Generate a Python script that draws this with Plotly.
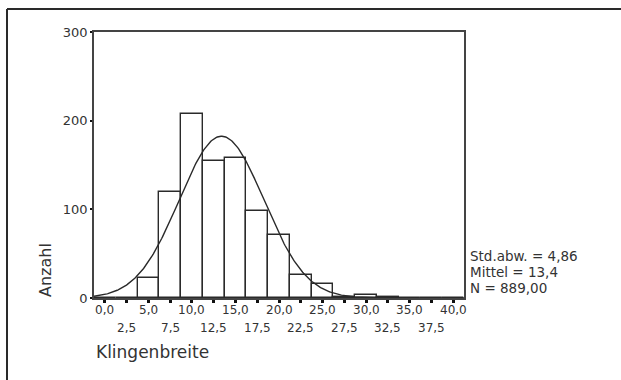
import numpy as np
import plotly.graph_objects as go

# Histogram of blade widths (Klingenbreite), bin width 2.5
bin_centers = [0.0, 2.5, 5.0, 7.5, 10.0, 12.5, 15.0, 17.5, 20.0, 22.5, 25.0, 27.5, 30.0, 32.5, 35.0, 37.5, 40.0]
counts = [0, 0, 23, 120, 207, 155, 158, 98, 71, 26, 16, 1, 3, 1, 0, 0, 0]
tick_values = [0.0, 2.5, 5.0, 7.5, 10.0, 12.5, 15.0, 17.5, 20.0, 22.5, 25.0, 27.5, 30.0, 32.5, 35.0, 37.5, 40.0]
tick_labels = ["0,0", "2,5", "5,0", "7,5", "10,0", "12,5", "15,0", "17,5", "20,0",
               "22,5", "25,0", "27,5", "30,0", "32,5", "35,0", "37,5", "40,0"]
y_ticks = [0, 100, 200, 300]

# Summary statistics shown beside the plot
STD = 4.86
MEAN = 13.4
N = 889.0
BIN_WIDTH = 2.5
stats_lines = ["Std.abw. = 4,86", "Mittel = 13,4", "N = 889,00"]

X_RANGE = [-1.25, 41.25]
Y_RANGE = [0, 300]

W, H = 621, 380
L, R, T, B = 94, 157, 32, 82
PW, PH = W - L - R, H - T - B


def px(x):
    return (x - L) / PW


def py(y):
    return (H - B - y) / PH


LINE = "#2a2a2a"
TEXT = "#333333"
FONT = "DejaVu Sans"

# Normal curve scaled to counts per bin
xc = np.linspace(X_RANGE[0], X_RANGE[1], 400)
yc = N * BIN_WIDTH * np.exp(-0.5 * ((xc - MEAN) / STD) ** 2) / (STD * np.sqrt(2 * np.pi))

fig = go.Figure()
fig.add_trace(go.Bar(
    x=bin_centers, y=counts, width=BIN_WIDTH,
    marker=dict(color="white", line=dict(color=LINE, width=1.4)),
    hoverinfo="x+y", showlegend=False,
))
fig.add_trace(go.Scatter(
    x=xc, y=yc, mode="lines",
    line=dict(color=LINE, width=1.4),
    hoverinfo="skip", showlegend=False,
))

fig.update_xaxes(
    range=X_RANGE, tickvals=tick_values, showticklabels=False,
    ticks="outside", ticklen=3, tickwidth=3, tickcolor="#111",
    showline=True, mirror=True, linecolor="#444", linewidth=1.5,
    showgrid=False, zeroline=False,
)
fig.update_yaxes(
    range=Y_RANGE, tickvals=y_ticks, ticktext=[str(v) for v in y_ticks],
    ticks="outside", ticklen=2, tickwidth=2, tickcolor="#111",
    tickfont=dict(family=FONT, size=13, color=TEXT),
    showline=True, mirror=True, linecolor="#444", linewidth=1.5,
    showgrid=False, zeroline=False,
)

annotations = []
# Two-row x tick labels: whole multiples of 5 on top, the halves below
for i, (v, t) in enumerate(zip(tick_values, tick_labels)):
    annotations.append(dict(
        x=v, y=0, xref="x", yref="paper", text=t, showarrow=False,
        xanchor="center", yanchor="middle",
        yshift=-12 if i % 2 == 0 else -30,
        font=dict(family=FONT, size=12, color=TEXT),
    ))
for j, s in enumerate(stats_lines):
    annotations.append(dict(
        x=px(468), y=py(256 + 16 * j), xref="paper", yref="paper", text=s,
        showarrow=False, xanchor="left", yanchor="middle",
        font=dict(family=FONT, size=13.5, color=TEXT),
    ))
annotations.append(dict(
    x=px(94), y=py(352), xref="paper", yref="paper", text="Klingenbreite",
    showarrow=False, xanchor="left", yanchor="middle",
    font=dict(family=FONT, size=17, color=TEXT),
))
annotations.append(dict(
    x=px(45), y=py(270), xref="paper", yref="paper", text="Anzahl",
    showarrow=False, xanchor="center", yanchor="middle", textangle=-90,
    font=dict(family=FONT, size=16, color=TEXT),
))

# Outer frame (top and left edges)
shapes = [
    dict(type="line", xref="paper", yref="paper", x0=px(7), x1=px(W + 5), y0=py(9), y1=py(9),
         line=dict(color=LINE, width=2)),
    dict(type="line", xref="paper", yref="paper", x0=px(7), x1=px(7), y0=py(9), y1=py(H + 5),
         line=dict(color=LINE, width=2)),
]

fig.update_layout(
    width=W, height=H,
    margin=dict(l=L, r=R, t=T, b=B),
    paper_bgcolor="white", plot_bgcolor="white",
    bargap=0, annotations=annotations, shapes=shapes,
    font=dict(family=FONT, color=TEXT),
)

fig.write_html("out.html")
